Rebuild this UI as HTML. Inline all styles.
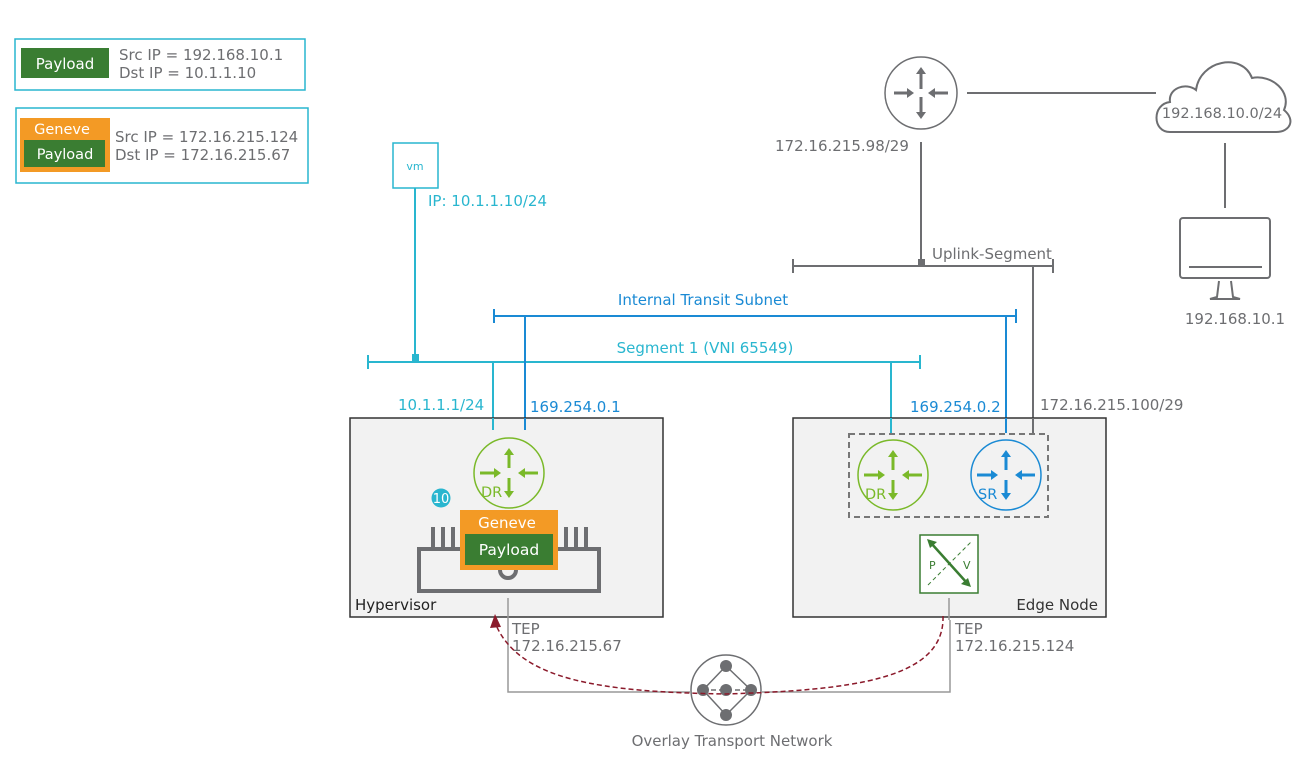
<!DOCTYPE html>
<html><head><meta charset="utf-8"><style>
html,body{margin:0;padding:0;background:#fff;}
svg{display:block;font-family:"DejaVu Sans","Liberation Sans",sans-serif;}
</style></head><body>
<svg width="1316" height="758" viewBox="0 0 1316 758" xmlns="http://www.w3.org/2000/svg">
<!-- legend -->
<rect x="15" y="39" width="290" height="51" fill="#fff" stroke="#29b6cf" stroke-width="1.5"/>
<rect x="21" y="48" width="88" height="30" fill="#3a7d32"/>
<text x="65" y="69" font-size="15" fill="#fff" text-anchor="middle">Payload</text>
<text x="119" y="60" font-size="15" fill="#6d6e71">Src IP = 192.168.10.1</text>
<text x="119" y="78" font-size="15" fill="#6d6e71">Dst IP = 10.1.1.10</text>
<rect x="16" y="108" width="292" height="75" fill="#fff" stroke="#29b6cf" stroke-width="1.5"/>
<rect x="20" y="118" width="90" height="54" fill="#f39a25"/>
<text x="62" y="134" font-size="14.5" fill="#fff" text-anchor="middle">Geneve</text>
<rect x="24" y="140" width="81" height="27" fill="#3a7d32"/>
<text x="65" y="159" font-size="14.5" fill="#fff" text-anchor="middle">Payload</text>
<text x="115" y="142" font-size="15" fill="#6d6e71">Src IP = 172.16.215.124</text>
<text x="115" y="160" font-size="15" fill="#6d6e71">Dst IP = 172.16.215.67</text>

<!-- vm -->
<rect x="393" y="143" width="45" height="45" fill="#fff" stroke="#29b6cf" stroke-width="1.5"/>
<text x="415" y="170" font-size="11" fill="#29b6cf" text-anchor="middle">vm</text>
<line x1="415" y1="188" x2="415" y2="362" stroke="#29b6cf" stroke-width="2"/>
<text x="428" y="206" font-size="15" fill="#29b6cf">IP: 10.1.1.10/24</text>

<!-- segment 1 -->
<line x1="368" y1="362" x2="920" y2="362" stroke="#29b6cf" stroke-width="2"/>
<line x1="368" y1="355" x2="368" y2="369" stroke="#29b6cf" stroke-width="2"/>
<line x1="920" y1="355" x2="920" y2="369" stroke="#29b6cf" stroke-width="2"/>
<rect x="412" y="354" width="7" height="8" fill="#29b6cf"/>
<text x="705" y="353" font-size="15" fill="#29b6cf" text-anchor="middle">Segment 1 (VNI 65549)</text>
<!-- transit -->
<line x1="494" y1="316" x2="1016" y2="316" stroke="#1a8ad4" stroke-width="2"/>
<line x1="494" y1="309" x2="494" y2="323" stroke="#1a8ad4" stroke-width="2"/>
<line x1="1016" y1="309" x2="1016" y2="323" stroke="#1a8ad4" stroke-width="2"/>
<text x="703" y="305" font-size="15" fill="#1a8ad4" text-anchor="middle">Internal Transit Subnet</text>

<line x1="493" y1="362" x2="493" y2="430" stroke="#29b6cf" stroke-width="2"/>
<line x1="525" y1="316" x2="525" y2="430" stroke="#1a8ad4" stroke-width="2"/>
<line x1="891" y1="362" x2="891" y2="432" stroke="#29b6cf" stroke-width="2"/>
<line x1="1006" y1="316" x2="1006" y2="432" stroke="#1a8ad4" stroke-width="2"/>
<line x1="1033" y1="266" x2="1033" y2="432" stroke="#6d6e71" stroke-width="2"/>
<text x="398" y="410" font-size="15" fill="#29b6cf">10.1.1.1/24</text>
<text x="530" y="412" font-size="15" fill="#1a8ad4">169.254.0.1</text>
<text x="910" y="412" font-size="15" fill="#1a8ad4">169.254.0.2</text>
<text x="1040" y="410" font-size="15" fill="#6d6e71">172.16.215.100/29</text>

<!-- uplink / top -->
<circle cx="921" cy="93" r="36" fill="#fff" stroke="#6d6e71" stroke-width="1.5"/>
<g stroke="#6d6e71" stroke-width="3" fill="#6d6e71">
<line x1="921" y1="89" x2="921" y2="72"/><path d="M916,74 L921,67 L926,74z" stroke="none"/>
<line x1="921" y1="97" x2="921" y2="114"/><path d="M916,112 L921,119 L926,112z" stroke="none"/>
<line x1="894" y1="93" x2="909" y2="93"/><path d="M907,88 L914,93 L907,98z" stroke="none"/>
<line x1="948" y1="93" x2="933" y2="93"/><path d="M935,88 L928,93 L935,98z" stroke="none"/>
</g>
<line x1="967" y1="93" x2="1156" y2="93" stroke="#6d6e71" stroke-width="2"/>
<path d="M1170,132 C1152,132 1152,104 1170,102 C1168,88 1186,82 1196,90 C1200,60 1242,52 1252,78 C1272,74 1292,92 1284,110 C1296,120 1290,132 1276,132 Z" fill="#fff" stroke="#6d6e71" stroke-width="2"/>
<text x="1222" y="118" font-size="14.5" fill="#6d6e71" text-anchor="middle">192.168.10.0/24</text>
<line x1="1225" y1="143" x2="1225" y2="208" stroke="#6d6e71" stroke-width="2"/>
<rect x="1180" y="218" width="90" height="60" rx="3" fill="#fff" stroke="#6d6e71" stroke-width="2"/>
<line x1="1189" y1="267" x2="1262" y2="267" stroke="#6d6e71" stroke-width="2"/>
<path d="M1219,281 L1217,297 L1210,299 L1240,299 L1233,297 L1231,281" fill="none" stroke="#6d6e71" stroke-width="2"/>
<text x="1235" y="324" font-size="15" fill="#6d6e71" text-anchor="middle">192.168.10.1</text>
<text x="775" y="151" font-size="15" fill="#6d6e71">172.16.215.98/29</text>
<line x1="921" y1="142" x2="921" y2="266" stroke="#6d6e71" stroke-width="2"/>
<rect x="918" y="259" width="7" height="7" fill="#6d6e71"/>
<line x1="793" y1="266" x2="1053" y2="266" stroke="#6d6e71" stroke-width="2"/>
<line x1="793" y1="259" x2="793" y2="273" stroke="#6d6e71" stroke-width="2"/>
<line x1="1053" y1="259" x2="1053" y2="273" stroke="#6d6e71" stroke-width="2"/>
<text x="932" y="259" font-size="15" fill="#6d6e71">Uplink-Segment</text>

<!-- hypervisor -->
<rect x="350" y="418" width="313" height="199" fill="#f2f2f2" stroke="#333" stroke-width="1.5"/>
<line x1="493" y1="418" x2="493" y2="430" stroke="#29b6cf" stroke-width="2"/>
<line x1="525" y1="418" x2="525" y2="430" stroke="#1a8ad4" stroke-width="2"/>
<text x="355" y="610" font-size="15" fill="#222">Hypervisor</text>
<g id="dr1">
<circle cx="509" cy="473" r="35" fill="none" stroke="#7ab929" stroke-width="1.5"/>
<g stroke="#7ab929" stroke-width="3" fill="#7ab929">
<line x1="509" y1="468" x2="509" y2="453"/><path d="M504,455 L509,448 L514,455z" stroke="none"/>
<line x1="509" y1="478" x2="509" y2="493"/><path d="M504,491 L509,498 L514,491z" stroke="none"/>
<line x1="480" y1="473" x2="496" y2="473"/><path d="M494,468 L501,473 L494,478z" stroke="none"/>
<line x1="538" y1="473" x2="523" y2="473"/><path d="M525,468 L518,473 L525,478z" stroke="none"/>
</g>
<text x="481" y="497" font-size="14.5" fill="#7ab929">DR</text>
</g>
<circle cx="441" cy="498" r="9.5" fill="#29b6cf"/>
<text x="441" y="503" font-size="13" fill="#fff" text-anchor="middle">10</text>
<g stroke="#6d6e71" stroke-width="4" fill="none">
<rect x="419" y="549" width="180" height="42"/>
<line x1="433" y1="527" x2="433" y2="547"/><line x1="443" y1="527" x2="443" y2="547"/><line x1="453" y1="527" x2="453" y2="547"/>
<line x1="566" y1="527" x2="566" y2="547"/><line x1="576" y1="527" x2="576" y2="547"/><line x1="586" y1="527" x2="586" y2="547"/>
<path d="M500,570 A8,8 0 0 0 516,570"/>
</g>
<rect x="460" y="510" width="98" height="60" fill="#f39a25"/>
<text x="507" y="528" font-size="15" fill="#fff" text-anchor="middle">Geneve</text>
<rect x="465" y="534" width="88" height="31" fill="#3a7d32"/>
<text x="509" y="555" font-size="15.5" fill="#fff" text-anchor="middle">Payload</text>

<!-- edge node -->
<rect x="793" y="418" width="313" height="199" fill="#f2f2f2" stroke="#333" stroke-width="1.5"/>
<line x1="891" y1="418" x2="891" y2="433" stroke="#29b6cf" stroke-width="2"/>
<line x1="1006" y1="418" x2="1006" y2="433" stroke="#1a8ad4" stroke-width="2"/>
<line x1="1033" y1="418" x2="1033" y2="433" stroke="#6d6e71" stroke-width="2"/>
<rect x="849" y="434" width="199" height="83" fill="none" stroke="#777" stroke-width="2" stroke-dasharray="6,4"/>
<use href="#dr1" transform="translate(384,2)"/>
<g>
<circle cx="1006" cy="475" r="35" fill="none" stroke="#1a8ad4" stroke-width="1.5"/>
<g stroke="#1a8ad4" stroke-width="3" fill="#1a8ad4">
<line x1="1006" y1="470" x2="1006" y2="455"/><path d="M1001,457 L1006,450 L1011,457z" stroke="none"/>
<line x1="1006" y1="480" x2="1006" y2="495"/><path d="M1001,493 L1006,500 L1011,493z" stroke="none"/>
<line x1="977" y1="475" x2="993" y2="475"/><path d="M991,470 L998,475 L991,480z" stroke="none"/>
<line x1="1035" y1="475" x2="1020" y2="475"/><path d="M1022,470 L1015,475 L1022,480z" stroke="none"/>
</g>
<text x="978" y="499" font-size="14.5" fill="#1a8ad4">SR</text>
</g>
<rect x="920" y="535" width="58" height="58" fill="#fff" stroke="#3a7d32" stroke-width="1.5"/>
<line x1="928" y1="585" x2="972" y2="541" stroke="#3a7d32" stroke-width="1" stroke-dasharray="4,3"/>
<line x1="931" y1="543" x2="967" y2="583" stroke="#3a7d32" stroke-width="2.5"/>
<path d="M927,539 L937,542 L930,548z M971,587 L961,584 L968,578z" fill="#3a7d32"/>
<text x="929" y="569" font-size="11" fill="#3a7d32">P</text>
<text x="963" y="569" font-size="11" fill="#3a7d32">V</text>
<text x="1098" y="610" font-size="15" fill="#333" text-anchor="end">Edge Node</text>

<!-- TEP -->
<path d="M508,598 V692 H690" fill="none" stroke="#999" stroke-width="1.5"/>
<path d="M950,620 V692 H762" fill="none" stroke="#999" stroke-width="1.5"/>
<line x1="949" y1="598" x2="949" y2="620" stroke="#999" stroke-width="1.5"/>
<text x="512" y="634" font-size="15" fill="#6d6e71">TEP</text>
<text x="512" y="651" font-size="15" fill="#6d6e71">172.16.215.67</text>
<text x="955" y="634" font-size="15" fill="#6d6e71">TEP</text>
<text x="955" y="651" font-size="15" fill="#6d6e71">172.16.215.124</text>

<circle cx="726" cy="690" r="35" fill="#fff" stroke="#6d6e71" stroke-width="1.5"/>
<g stroke="#6d6e71" stroke-width="1.5"><line x1="726" y1="666" x2="703" y2="690"/><line x1="726" y1="666" x2="751" y2="690"/><line x1="703" y1="690" x2="726" y2="715"/><line x1="751" y1="690" x2="726" y2="715"/><line x1="703" y1="690" x2="751" y2="690" stroke-dasharray="5,3"/></g>
<g fill="#6d6e71"><circle cx="726" cy="666" r="6"/><circle cx="726" cy="715" r="6"/><circle cx="703" cy="690" r="6"/><circle cx="751" cy="690" r="6"/><circle cx="726" cy="690" r="6"/></g>
<text x="732" y="746" font-size="15" fill="#6d6e71" text-anchor="middle">Overlay Transport Network</text>

<path d="M943,616 C945,680 850,690 726,694 C600,692 520,680 496,625" fill="none" stroke="#8b1a2b" stroke-width="1.5" stroke-dasharray="5,3"/>
<path d="M490,628 L495,614 L501,627z" fill="#8b1a2b"/>
</svg>
</body></html>
